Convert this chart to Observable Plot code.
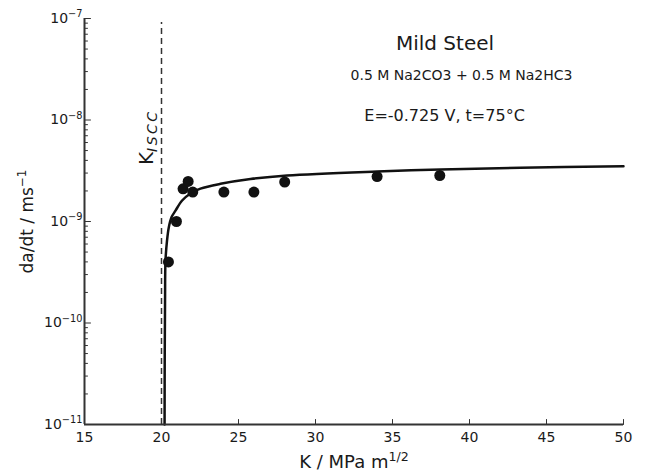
<!DOCTYPE html>
<html>
<head>
<meta charset="utf-8">
<script src="https://cdn.jsdelivr.net/npm/d3@7"></script>
<script src="https://cdn.jsdelivr.net/npm/@observablehq/plot@0.6"></script>
<style>
  html, body { margin: 0; padding: 0; background: #fff; }
  #chart svg { font-family: "DejaVu Sans", sans-serif; }
</style>
</head>
<body>
<div id="chart"></div>
<script>
// measured points (K in MPa m^1/2, da/dt in m/s)
const pointK    = [20.45, 20.97, 21.40, 21.73, 22.03, 24.05, 26.00, 28.00, 34.00, 38.07];
const pointRate = [4.0e-10, 1.0e-9, 2.1e-9, 2.48e-9, 1.95e-9, 1.95e-9, 1.95e-9, 2.45e-9, 2.77e-9, 2.84e-9];

// fitted curve
const curveK    = [20.20, 20.21, 20.23, 20.26, 20.36, 20.47, 20.65, 20.91, 21.34, 21.88, 22.53, 23.83, 25.78, 28.16, 34.00, 38.12, 43.30, 50.00];
const curveRate = [1e-11, 5e-11, 1.66e-10, 4.13e-10, 6.5e-10, 8.7e-10, 1.1e-9, 1.28e-9, 1.61e-9, 1.89e-9, 2.11e-9, 2.35e-9, 2.62e-9, 2.84e-9, 3.11e-9, 3.25e-9, 3.38e-9, 3.51e-9];

const kIscc = 20;
const xTicks = [15, 20, 25, 30, 35, 40, 45, 50];
const yExponents = [-11, -10, -9, -8, -7];
const annotationLines = ["Mild Steel", "0.5 M Na2CO3 + 0.5 M Na2HC3", "E=-0.725 V, t=75°C"];
const xLabel = "K / MPa m^{1/2}";
const yLabel = "da/dt / ms^{−1}";
const kLabel = "K_{ISCC}";

const points = pointK.map((k, i) => ({k, rate: pointRate[i]}));
const curve = curveK.map((k, i) => ({k, rate: curveRate[i]}));
const yMajor = yExponents.map(e => 10 ** e);
const yMinor = [];
for (const e of yExponents.slice(0, -1)) for (let m = 2; m <= 9; ++m) yMinor.push(m * 10 ** e);

const tickShape = {draw(context, l) { context.moveTo(0, 0); context.lineTo(0, -l); }};
const ink = "#1a1a1a";
const axisInk = "#333";
const mid = {textAnchor: "middle", lineAnchor: "middle"};

const annotations = [
  {text: annotationLines[0], k: 38.41, rate: 10 ** -7.252, size: 20},
  {text: annotationLines[1], k: 39.48, rate: 10 ** -7.566, size: 14},
  {text: annotationLines[2], k: 38.38, rate: 10 ** -7.955, size: 16}
];

const chart = Plot.plot({
  width: 649,
  height: 472,
  marginLeft: 84,
  marginRight: 26,
  marginTop: 18,
  marginBottom: 48,
  style: {fontFamily: "DejaVu Sans, sans-serif", color: ink, background: "#fff"},
  x: {domain: [15, 50], axis: null},
  y: {type: "log", domain: [1e-11, 1e-7], axis: null},
  marks: [
    Plot.ruleX([kIscc], {x: d => d, y1: 1e-11, y2: 10 ** -7.04, stroke: "#333", strokeWidth: 1.5, strokeDasharray: "6,4"}),
    Plot.line(curve, {x: "k", y: "rate", curve: "catmull-rom", stroke: "#111", strokeWidth: 2.5}),
    Plot.dot(points, {x: "k", y: "rate", r: 5.5, fill: "#111", stroke: "none"}),
    // axis lines
    Plot.ruleY([1e-11], {y: d => d, stroke: axisInk, strokeWidth: 2}),
    Plot.ruleX([15], {x: d => d, stroke: axisInk, strokeWidth: 2}),
    // inward ticks
    Plot.vector(xTicks, {x: d => d, frameAnchor: "bottom", length: 5, rotate: 0, anchor: "start", shape: tickShape, stroke: axisInk, strokeWidth: 1}),
    Plot.vector(yMajor, {y: d => d, frameAnchor: "left", length: 6, rotate: 90, anchor: "start", shape: tickShape, stroke: axisInk, strokeWidth: 1}),
    Plot.vector(yMinor, {y: d => d, frameAnchor: "left", length: 3, rotate: 90, anchor: "start", shape: tickShape, stroke: axisInk, strokeWidth: 1}),
    // tick labels
    Plot.text(xTicks, {x: d => d, frameAnchor: "bottom", text: d => String(d), dy: 13, fontSize: 14, fill: ink, ...mid}),
    Plot.text(yExponents, {y: e => 10 ** e, frameAnchor: "left", text: e => "10^{" + String(e).replace("-", "−") + "}", textAnchor: "end", lineAnchor: "middle", dx: -2, fontSize: 14, fill: ink}),
    // axis titles
    Plot.text([xLabel], {frameAnchor: "bottom", text: d => d, dy: 38, fontSize: 18, fill: ink, ...mid}),
    Plot.text([yLabel], {frameAnchor: "left", text: d => d, rotate: -90, dx: -57, fontSize: 17, fill: ink, ...mid}),
    // K_ISCC label
    Plot.text([kLabel], {x: 19.05, y: 10 ** -8.17, text: d => d, rotate: -90, fontSize: 20, fill: ink, ...mid}),
    // annotations
    Plot.text(annotations, {x: "k", y: "rate", text: "text", fontSize: d => d.size, fill: ink, ...mid})
  ]
});

// turn ^{..} / _{..} markup into tspans
d3.select(chart).selectAll("text").each(function() {
  const s = this.textContent;
  const m = s.match(/^(.*?)([\^_])\{(.*)\}$/);
  if (!m) return;
  const t = d3.select(this);
  t.text(null);
  t.append("tspan").text(m[1]);
  const sup = m[2] === "^";
  const ts = t.append("tspan").text(m[3]);
  if (sup) {
    ts.attr("font-size", "0.7em").attr("dy", "-0.6em");
  } else {
    ts.attr("font-size", "0.7em").attr("font-style", "italic").attr("letter-spacing", "2.5px").attr("dy", "0.24em");
  }
});

document.getElementById("chart").appendChild(chart);
</script>
</body>
</html>
